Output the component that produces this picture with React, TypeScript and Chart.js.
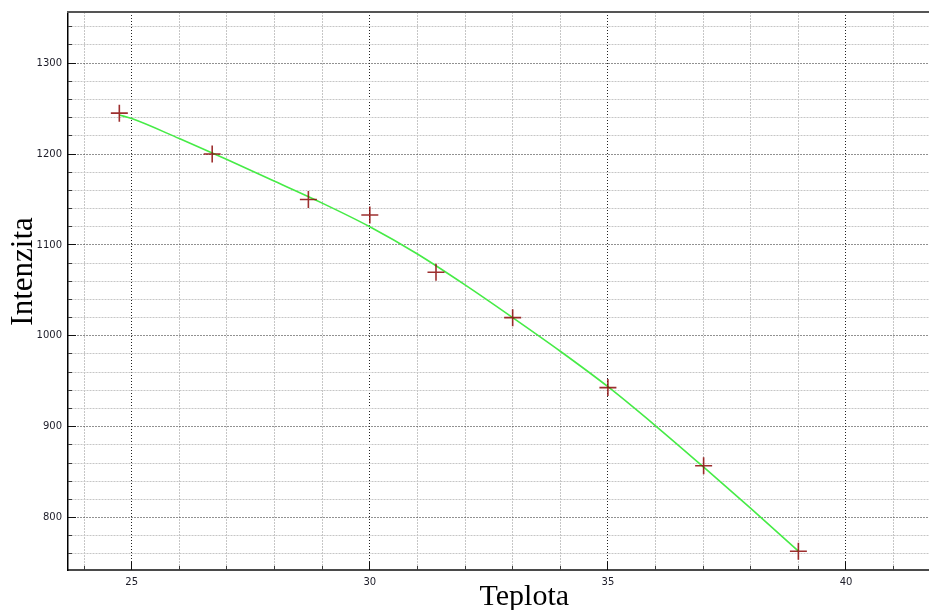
import React, { useEffect, useRef } from "react";
import { Chart, registerables } from "chart.js";

Chart.register(...registerables);

// measured points (red crosses)
const temperature = [24.74, 26.69, 28.71, 30.0, 31.39, 33.0, 35.0, 37.01, 39.0];
const intensity = [1245, 1200, 1150, 1133, 1070, 1020, 943, 857, 763];

// fitted curve (green)
const fitTemperature = [24.74, 25, 26, 27, 28, 29, 30, 31, 32, 33, 34, 35, 36, 37, 38, 39];
const fitIntensity = [1243, 1239, 1217, 1194, 1170, 1146, 1120, 1090, 1056, 1020, 983, 944, 901, 856, 810, 763];

const xLabelStep = 5;
const yLabelStep = 100;
const xMinorStep = 1;
const yMinorStep = 20;
const xAxisTitle = "Teplota";
const yAxisTitle = "Intenzita";

const isMultiple = (v: number, step: number) =>
  Math.abs(v / step - Math.round(v / step)) < 1e-6;

const align = (p: number) => Math.round(p - 0.5) + 0.5;

const frameAndTicks = {
  id: "frameAndTicks",
  afterDraw(chart: any) {
    const { ctx, chartArea, scales } = chart;
    const { left, right, top, bottom } = chartArea;
    const xs = scales.x;
    const ys = scales.y;
    ctx.save();
    ctx.lineWidth = 1;
    xs.ticks.forEach((t: any) => {
      const major = isMultiple(t.value, xLabelStep);
      const px = align(xs.getPixelForValue(t.value));
      ctx.strokeStyle = major ? "#111" : "#3a3a3a";
      ctx.beginPath();
      ctx.moveTo(px, bottom);
      ctx.lineTo(px, bottom - (major ? 8 : 4));
      ctx.stroke();
    });
    ys.ticks.forEach((t: any) => {
      const major = isMultiple(t.value, yLabelStep);
      const py = align(ys.getPixelForValue(t.value));
      ctx.strokeStyle = major ? "#111" : "#3a3a3a";
      ctx.beginPath();
      ctx.moveTo(left, py);
      ctx.lineTo(left + (major ? 8 : 4), py);
      ctx.stroke();
    });
    // top frame line
    ctx.strokeStyle = "#555";
    ctx.lineWidth = 2;
    ctx.beginPath();
    ctx.moveTo(left - 1, top);
    ctx.lineTo(right, top);
    ctx.stroke();

    // axis titles
    ctx.fillStyle = "#000";
    ctx.textAlign = "center";
    ctx.textBaseline = "alphabetic";
    ctx.font = "30px 'Liberation Serif', 'DejaVu Serif', serif";
    ctx.fillText(xAxisTitle, left + (right - left) * 0.53, chart.height - 5);
    ctx.save();
    ctx.translate(32, top + (bottom - top) * 0.465);
    ctx.rotate(-Math.PI / 2);
    ctx.font = "31px 'Liberation Serif', 'DejaVu Serif', serif";
    ctx.fillText(yAxisTitle, 0, 0);
    ctx.restore();
    ctx.restore();
  },
};

export default function App() {
  const ref = useRef<HTMLCanvasElement | null>(null);

  useEffect(() => {
    document.body.style.margin = "0";
    if (!ref.current) return;
    const tickFont = { family: "'DejaVu Sans', sans-serif", size: 10 };
    const chart = new Chart(ref.current, {
      type: "scatter",
      data: {
        datasets: [
          {
            type: "scatter",
            label: "measured",
            data: temperature.map((t, i) => ({ x: t, y: intensity[i] })),
            pointStyle: "cross",
            pointRadius: 8.5,
            pointHoverRadius: 8.5,
            borderColor: "rgba(140,10,10,0.85)",
            backgroundColor: "rgba(140,10,10,0.85)",
            borderWidth: 1.6,
            order: 1,
          },
          {
            type: "line",
            label: "fit",
            data: fitTemperature.map((t, i) => ({ x: t, y: fitIntensity[i] })),
            showLine: true,
            borderColor: "rgb(70,235,70)",
            borderWidth: 1.6,
            pointRadius: 0,
            fill: false,
            cubicInterpolationMode: "monotone",
            order: 2,
          },
        ],
      },
      options: {
        animation: false,
        responsive: false,
        maintainAspectRatio: false,
        layout: { autoPadding: false, padding: { top: 11, right: 0, left: 0, bottom: 0 } },
        plugins: {
          legend: { display: false },
          tooltip: { enabled: false },
          title: { display: false },
        },
        scales: {
          x: {
            type: "linear",
            min: 23.662,
            max: 41.743,
            afterFit: (s: any) => {
              s.height = 40;
            },
            grid: {
              drawTicks: false,
              lineWidth: 1,
              color: (c: any) =>
                c.tick && isMultiple(c.tick.value, xLabelStep) ? "#222" : "#c6c6c6",
            },
            border: {
              color: "#4a4a4a",
              width: 2,
              dash: (c: any) =>
                c.tick && isMultiple(c.tick.value, xLabelStep) ? [1, 2] : [2, 1],
            },
            ticks: {
              stepSize: xMinorStep,
              includeBounds: false,
              autoSkip: false,
              maxRotation: 0,
              padding: 6,
              color: "#1c1c28",
              font: tickFont,
              callback: (v: any) => (isMultiple(Number(v), xLabelStep) ? String(v) : ""),
            },
            title: { display: false },
          },
          y: {
            type: "linear",
            min: 742.3,
            max: 1356.3,
            afterFit: (s: any) => {
              s.width = 68;
            },
            grid: {
              drawTicks: false,
              lineWidth: 1,
              color: (c: any) =>
                c.tick && isMultiple(c.tick.value, yLabelStep) ? "#222" : "#c6c6c6",
            },
            border: {
              color: "#000",
              width: 1.5,
              dash: (c: any) =>
                c.tick && isMultiple(c.tick.value, yLabelStep) ? [1, 2] : [2, 1],
            },
            ticks: {
              stepSize: yMinorStep,
              includeBounds: false,
              autoSkip: false,
              padding: 6,
              color: "#1c1c28",
              font: tickFont,
              callback: (v: any) => (isMultiple(Number(v), yLabelStep) ? String(v) : ""),
            },
            title: { display: false },
          },
        },
      },
      plugins: [frameAndTicks],
    });
    return () => chart.destroy();
  }, []);

  return (
    <div style={{ width: 929, height: 610, background: "#fff" }}>
      <canvas ref={ref} width={929} height={610} style={{ display: "block" }} />
    </div>
  );
}
